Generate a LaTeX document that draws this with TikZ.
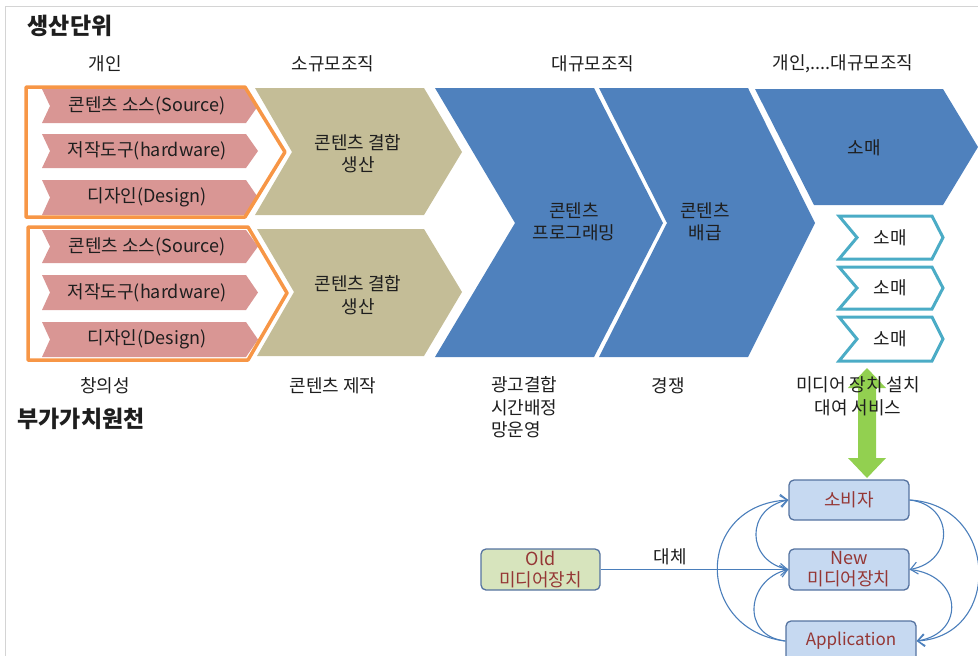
\documentclass[tikz,border=0pt]{standalone}
\usepackage{fontspec}
\setmainfont{Noto Sans CJK KR}
\usetikzlibrary{arrows.meta}
\definecolor{pinkc}{RGB}{217,150,148}
\definecolor{tanc}{RGB}{196,189,151}
\definecolor{bluec}{RGB}{79,129,189}
\definecolor{orangec}{RGB}{247,150,70}
\definecolor{tealc}{RGB}{75,172,198}
\definecolor{greenc}{RGB}{146,208,80}
\definecolor{boxblue}{RGB}{198,217,241}
\definecolor{boxgreen}{RGB}{215,228,189}
\definecolor{boxedge}{RGB}{85,115,160}
\definecolor{redtext}{RGB}{149,55,53}
\definecolor{linkc}{RGB}{74,126,187}
\definecolor{txt}{RGB}{30,30,30}
\definecolor{framec}{RGB}{212,212,212}
\begin{document}
\begin{tikzpicture}[x=1pt,y=-1pt,
  lbl/.style={text=txt,font=\fontsize{18}{22.5}\selectfont,inner sep=0pt,align=center},
  ttl/.style={text=txt,font=\bfseries\fontsize{23}{26}\selectfont,inner sep=0pt},
  devbox/.style={draw=boxedge,line width=1.3pt,rounded corners=5pt,fill=boxblue,
    minimum width=120pt,minimum height=40pt,text=redtext,
    font=\fontsize{18}{21}\selectfont,align=center,inner sep=0pt},
  link/.style={draw=linkc,line width=1.1pt,-{Straight Barb[length=7pt,width=12pt]}},
  orangeline/.style={draw=orangec,line width=3.5pt,line join=round},
  tealchev/.style={draw=tealc,fill=white,line width=3pt},
]
\useasboundingbox (0,0) rectangle (978,656);
% frame
\draw[framec,line width=1pt] (5,656) -- (5,6) -- (978,6);

% pink chevrons
\foreach \t/\b in {89/123,134/168,180/215,230/263,275/310,322/357}{
  \fill[pinkc] (42,\t) -- (246,\t) -- (258,{(\t+\b)/2}) -- (246,\b) -- (42,\b) -- (50,{(\t+\b)/2}) -- cycle;
}
% orange outlines
\draw[orangeline] (26,87) -- (245,87) -- (285,152) -- (245,217) -- (26,217) -- cycle;
\draw[orangeline] (28,227) -- (248,227) -- (287,293) -- (248,360) -- (28,360) -- cycle;

% tan chevrons
\fill[tanc] (255,88) -- (424,88) -- (462,152) -- (424,215) -- (255,215) -- (292,152) -- cycle;
\fill[tanc] (257,229) -- (424,229) -- (462,292) -- (424,356) -- (257,356) -- (294,292) -- cycle;

% blue chevrons
\fill[bluec] (435,88) -- (594,88) -- (663,223) -- (594,357) -- (435,357) -- (515,223) -- cycle;
\fill[bluec] (599,88) -- (748,88) -- (815,223) -- (748,357) -- (599,357) -- (667,223) -- cycle;
\fill[bluec] (755,89) -- (943,89) -- (978,147) -- (943,205) -- (814,205) -- cycle;

% teal chevrons
\foreach \t/\b in {216/259,267/309,317/361}{
  \draw[tealchev] (839,\t) -- (932,\t) -- (943,{(\t+\b)/2}) -- (932,\b) -- (839,\b) -- (857,{(\t+\b)/2}) -- cycle;
}

% green double arrow
\fill[greenc] (867,368) -- (886,388) -- (876,388) -- (876,458) -- (886,458) -- (867,478)
  -- (848,458) -- (858,458) -- (858,388) -- (848,388) -- cycle;

% titles
\node[ttl] (title1) at (70,26) {생산단위};
\node[ttl] (title2) at (81,419) {부가가치원천};

% headers
\node[lbl] (h1) at (105,64) {개인};
\node[lbl] (h2) at (333,64) {소규모조직};
\node[lbl] (h3) at (593,64) {대규모조직};
\node[lbl] (h4) at (843,64) {개인,....대규모조직};

% pink texts
\node[lbl] (p1) at (147,106) {콘텐츠 소스(Source)};
\node[lbl] (p2) at (147,151) {저작도구(hardware)};
\node[lbl] (p3) at (147,197) {디자인(Design)};
\node[lbl] (p4) at (147,246.5) {콘텐츠 소스(Source)};
\node[lbl] (p5) at (147,292.5) {저작도구(hardware)};
\node[lbl] (p6) at (147,339.5) {디자인(Design)};

% tan texts
\node[lbl] (c1) at (358,153.5) {콘텐츠 결합\\생산};
\node[lbl] (c2) at (358,295) {콘텐츠 결합\\생산};

% blue texts
\node[lbl] (b1) at (574,222) {콘텐츠\\프로그래밍};
\node[lbl] (b2) at (705,222) {콘텐츠\\배급};
\node[lbl] (b3) at (864,148) {소매};
\node[lbl] (s1) at (890,238) {소매};
\node[lbl] (s2) at (890,288) {소매};
\node[lbl] (s3) at (890,339) {소매};

% bottom labels
\node[lbl] (v1) at (105,386) {창의성};
\node[lbl] (v2) at (333,386) {콘텐츠 제작};
\node[lbl,align=left,anchor=west] (v3) at (491,407.5) {광고결합\\시간배정\\망운영};
\node[lbl] (v4) at (668,386) {경쟁};
\node[lbl] (v5) at (858,396.5) {미디어 장치 설치\\대여 서비스};

% device boxes
\node[devbox] (cons) at (849,500) {소비자};
\node[devbox,minimum height=41pt] (new) at (849,569.5) {New\\미디어장치};
\node[devbox,minimum width=130pt,font=\fontsize{17}{21}\selectfont] (app) at (851,641) {Application};
\node[devbox,fill=boxgreen,minimum width=119pt,minimum height=41pt] (old) at (540.5,569.5) {Old\\미디어장치};

% connectors
\draw[link] (old) -- (new);
\node[lbl] (rep) at (670,557) {대체};
\draw[link] (app.west) .. controls +(-91,-11) and +(-94,5) .. (cons.west);
\draw[link] (new.west) .. controls +(-43,-8) and +(-43,8) .. (cons.west);
\draw[link] (app.west) .. controls +(-45,-5) and +(-42,10) .. (new.west);
\draw[link] (cons.east) .. controls +(45,5) and +(45,-8) .. (new.east);
\draw[link] (cons.east) .. controls +(90,5) and +(85,-5) .. (app.east);
\draw[link] (new.east) .. controls +(52,5) and +(50,-8) .. (app.east);
\end{tikzpicture}
\end{document}
